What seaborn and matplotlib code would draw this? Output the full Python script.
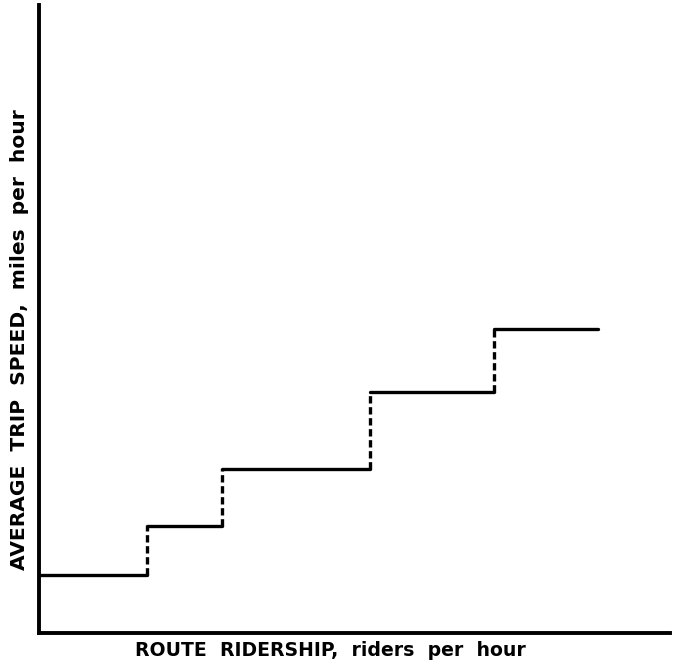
import pandas as pd
import matplotlib
matplotlib.use('Agg')
import matplotlib.pyplot as plt
import seaborn as sns

# step levels (arbitrary units, 0-100 on both axes)
step_x_start = [0.0, 17.1, 29.0, 52.5, 72.1]
step_x_end = [17.1, 29.0, 52.5, 72.1, 88.6]
step_speed = [9.2, 17.0, 26.1, 38.4, 48.4]

x_label = 'ROUTE  RIDERSHIP,  riders  per  hour'
y_label = 'AVERAGE  TRIP  SPEED,  miles  per  hour'

# build segments: solid treads, dashed risers
rows = []
seg = 0
for i in range(len(step_speed)):
    rows.append(dict(x=step_x_start[i], y=step_speed[i], seg=seg, kind='level'))
    rows.append(dict(x=step_x_end[i], y=step_speed[i], seg=seg, kind='level'))
    seg += 1
    if i + 1 < len(step_speed):
        rows.append(dict(x=step_x_end[i], y=step_speed[i], seg=seg, kind='riser'))
        rows.append(dict(x=step_x_end[i], y=step_speed[i + 1], seg=seg, kind='riser'))
        seg += 1
df = pd.DataFrame(rows)

sns.set_style('white')
plt.rcParams['font.family'] = ['DejaVu Sans']

fig = plt.figure(figsize=(6.75, 6.64), dpi=100)
ax = fig.add_axes([39 / 675, 31 / 664, 631 / 675, 628 / 664])

sns.lineplot(
    data=df, x='x', y='y', units='seg', style='kind', estimator=None,
    dashes={'level': '', 'riser': (2.2, 1.1)}, color='black', linewidth=2.4,
    legend=False, ax=ax, sort=False
)

ax.set_xlim(0, 100)
ax.set_ylim(0, 100)
ax.set_xticks([])
ax.set_yticks([])
ax.set_xlabel('')
ax.set_ylabel('')
sns.despine(ax=ax)
for side in ['left', 'bottom']:
    ax.spines[side].set_linewidth(2.8)
    ax.spines[side].set_color('black')

fig.text(330 / 675, 1 - 650 / 664, x_label, ha='center', va='center',
         fontsize=13.6, fontweight='bold', color='black')
fig.text(20 / 675, 1 - 340 / 664, y_label, ha='center', va='center',
         rotation=90, fontsize=14.6, fontweight='bold', color='black')

fig.savefig('out.png', dpi=100, facecolor='white')
